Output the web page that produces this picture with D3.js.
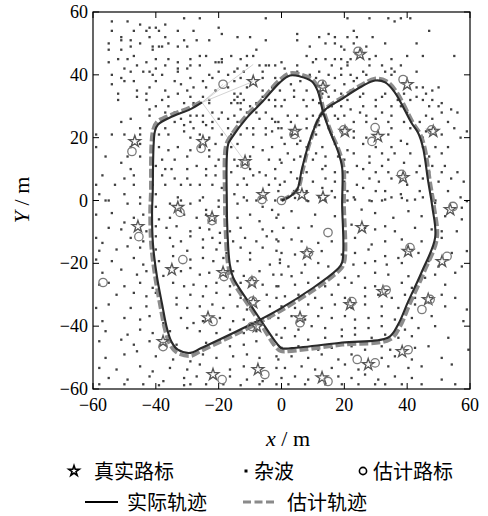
<!DOCTYPE html>
<html><head><meta charset="utf-8">
<script src="https://cdn.jsdelivr.net/npm/d3@7"></script>
<style>body{margin:0;background:#fff}svg{display:block}</style>
</head><body>
<svg id="c" width="488" height="516"></svg>
<script>
const xTicks=[-60,-40,-20,0,20,40,60];
const yTicks=[-60,-40,-20,0,20,40,60];
const actualPath=[[0,0],[3,1.5],[5,3.5],[6.5,10],[9,19],[13,28],[19,32.2],[25.5,36.3],[29.8,38.2],[33,37.6],[36,34.5],[41.5,24.5],[43.5,21.5],[45,17],[46.7,6],[48,-2],[48.9,-11.8],[44.7,-22.6],[40.3,-32.2],[37.1,-39.5],[34,-43.6],[19.3,-45.2],[3.3,-47],[0,-47],[-1.5,-45.5],[-6,-39],[-10,-33],[-15.4,-24.5],[-16.5,-20],[-17.2,-10],[-17.4,-1],[-17,17.8],[-15.8,20],[-11,26.4],[-6,31.5],[-0.5,37.6],[2.7,39.8],[5.9,39.5],[9.7,37.9],[11.6,34.7],[13.2,28.3],[15.4,22],[18,15.6],[19.3,10.5],[19.3,-1],[19.3,-19.7],[17.7,-22],[-0.5,-34.5],[-26,-47.2],[-29,-48.5],[-33,-47.5],[-35,-45],[-36.5,-40.5],[-38,-33],[-39.6,-24.5],[-40.9,-14],[-41.2,-3.5],[-41,2],[-40.3,22],[-39.3,24.2],[-34.6,26.8],[-29.1,29],[-25.3,31.2]];
const estPath=[[0,0],[3.2,1.8],[5.3,3.8],[6.9,10.2],[9.3,19.3],[13.4,28.5],[19.2,32.8],[25.4,36.8],[29.7,38.8],[33.3,38.1],[36.5,34.8],[42,24.5],[44.1,21.3],[45.6,16.8],[47.3,5.8],[48.6,-2.2],[49.5,-12],[45.3,-23],[40.9,-32.8],[37.7,-40.2],[34.5,-44.3],[19.3,-45.9],[3.2,-47.9],[-0.3,-47.9],[-2.2,-46.2],[-6.5,-39.4],[-10.5,-33.4],[-15.9,-24.9],[-17.1,-20],[-17.8,-10],[-18,-1],[-17.7,17.5],[-16.4,20.2],[-11.4,26.8],[-6.3,32],[-0.8,38.2],[2.6,40.5],[5.9,40.2],[9.9,38.5],[12,34.6],[13.6,28.1],[15.8,21.8],[18.5,15.4],[19.8,10.4],[19.9,-1],[19.9,-20],[18.1,-22.6],[-0.4,-35.2],[-25.8,-48],[-29,-49.5],[-33.5,-48.3],[-35.7,-45.5],[-37.2,-40.7],[-38.7,-33],[-40.2,-24.5],[-41.5,-14],[-41.8,-3.5],[-41.6,2],[-41,22],[-39.7,25],[-34.6,27.5],[-29,29.7],[-25,31.8]];
const trueLandmarks=[[25,46.5],[-9,37.9],[40,36.9],[13.2,36],[-46.7,18.8],[-25,18.8],[-11.6,12.4],[-5.9,1.9],[4.3,22],[20.2,22],[30.7,20.4],[48.3,22],[38.7,7.3],[6.5,1.9],[13.2,1],[53.7,-2.9],[25.6,-8.6],[8.1,-16.9],[40.3,-16.2],[51.1,-19.4],[32.3,-29],[21.8,-33.1],[46.7,-31.5],[5.9,-37.3],[38.4,-48.1],[27.6,-52.2],[12.9,-56.4],[-33,-2.2],[-22.1,-5.4],[-45.7,-8.3],[-34.9,-22],[-18.6,-22.9],[-9.4,-26.1],[-9,-32.5],[-23.4,-37.3],[-7.8,-40.1],[-37.7,-44.9],[-21.8,-55.4],[-7.5,-53.8]];
const estLandmarks=[[24.4,47.5],[-18.6,37],[38.7,38.5],[12.9,37],[-47.6,15.6],[-25.6,16.6],[-11.6,11.5],[-6.2,0.3],[4,21],[19.8,22.5],[29.8,23.2],[28.8,18.8],[47.8,22.5],[38.2,8.3],[0,0],[54.6,-1.9],[14.8,-10.2],[8.6,-16.6],[40.9,-15],[52.7,-17.8],[33.3,-28.5],[22.4,-32.2],[47.3,-31.5],[44.7,-34.7],[5.9,-38.9],[40.3,-47.5],[24.1,-50.6],[29.8,-51.7],[14.8,-57.6],[-32.3,-3.8],[-22.1,-6.4],[-45.4,-11.5],[-31.4,-18.8],[-18.3,-24.2],[-9.2,-25.6],[-9.2,-32],[-21.8,-38.5],[-9.4,-40.1],[-37.7,-46.5],[-18.9,-57],[-5.3,-55.4],[-56.8,-26.1]];
const assocTargets=[[-9,43.3],[-9,37.9],[-18.6,37],[-11.6,12.4]];
const clutter=[
[-54,57],[-49,57],[-45,56],[-42,55],[-40,55],[-37,56],[-31,58],[-26,58],[-20,55],[-5,58],
[-54,54],[-51,52],[-47,54],[-43,54],[-39,54],[-37,52],[-33,54],[-28,54],[-19,53],
[-55,50],[-51,51],[-48,51],[-42,52],[-45,50],[-41,49],[-38,49],[-36,50],[-31,51],[-27,51],[-23,51],[-14,52],[-10,52],[-5,51],
[-55,48],[-51,48],[-48,49],[-41,48],[-39,49],[-33,49],[-30,49],[-26,46],[-24,46],[-19,45],[-16,46],[-11,46],[-8,48],
[-55,44],[-52,45],[-49,45],[-47,46],[-43,44],[-40,45],[-36,45],[-33,44],[-29,45],[-21,44],[-19,44],[-13,45],[-9,46],[-7,43],[-5,43],[-4,43],[-2,43],
[-50,42],[-46,43],[-42,41],[-40,42],[-37,43],[-33,42],[-29,43],[-26,43],[-20,44],[-14,42],[-11,43],
[-54,40],[-51,39],[-48,41],[-44,41],[-41,40],[-38,40],[-33,41],[-30,42],[-23,40],[-20,41],[-17,40],[-15,41],[-12,41],[-6,41],
[-54,37],[-50,38],[-47,38],[-42,36],[-40,38],[-34,38],[-32,37],[-29,39],[-25,38],[-22,39],[-15,38],[-13,39],[-11,36],[-6,39],[-2,39],
[-52,34],[-46,35],[-43,34],[-37,35],[-33,34],[-30,35],[-28,36],[-24,36],[-21,35],[-17,36],[-15,34],[-13,34],[-6,35],[-3,36],[-0.5,35],
[-52,32],[-46,33],[-43,32],[-38,32],[-36,33],[-29,33],[-25,33],[-23,32],[-15,32],[-14,33],[-12,32],[-6,33],[-4,32],[-2,32],
[-42,29],[-40,30],[-36,30],[-31,31],[-28,31],[-23,31],[-16,31],[-14,31],[-13,31],[-10,30],[-8,31],[-2,30],
[-42,27],[-37,28],[-34,28],[-29,27],[-27,27],[-25,27],[-22,28],[-19,28],[-15,27],[-13,29],[-11,28],[-8,28],[-5,28],
[-51,25],[-48,26],[-38,26],[-34,25],[-32,26],[-29,25],[-25,25],[-22,25],[-20,26],[-17,26],[-14,25],[-12,26],[-7,26],[-3,26],[-2,25],
[-45,23],[-37,23],[-31,24],[-28,23],[-24,24],[-22,23],[-17,23],[-15,22],[-11,23],[-9,23],[-5,23],[-3,22],[-1,23],
[-59,21],[-54,21],[-50,21],[-45,21],[-39,21],[-36,21],[-31,22],[-29,20],[-26,21],[-23,20],[-19,21],[-16,21],[-13,21],[-9,21],[-5,21],
[-59,17],[-48,17],[-45,18],[-39,17],[-36,16],[-33,17],[-29,16],[-26,17],[-23,16],[-21,18],[-16,17],[-14,18],[-9,17],[-6,16],[-3,17],
[-56,14],[-49,14],[-45,14],[-38,13],[-34,13],[-30,14],[-23,14],[-20,13],[-15,13],[-10,14],[-4,13],[-0.5,13],
[-51,12],[-48,10],[-40,11],[-37,10],[-35,10],[-30,10],[-27,11],[-24,10],[-21,11],[-14,11],[-10,10],[-7,9],[-2,10],
[-57,8],[-50,7],[-47,8],[-41,8],[-38,8],[-34,7],[-30,7],[-24,8],[-21,8],[-16,9],[-12,7],[-9,8],[-5,8],[-2,7],
[-59,5],[-53,5],[-47,5],[-41,5],[-37,5],[-32,5],[-29,5],[-26,5],[-22,5],[-19,4],[-14,5],[-11,5],[-4,5],[-0.5,5],
[-58,2],[-56,0],[-50,2],[-45,1],[-40,2],[-33,1],[-32,0],[-25,1],[-20,0],[-15,2],[-12,1],[-8,0],[-2,0],
[21,58],[28,58],[34,58],[36,57],[38,58],[41,58],
[5,53],[12,52],[15,53],[17,52],[21,52],[23,54],[24,52],[29,52],[47,54],
[5,51],[9,49],[14,50],[17,50],[19,49],[20,48],[23,50],[27,49],[33,50],[43,50],[45,46],[55,46],
[8,46],[11,45],[14,45],[17,45],[19,45],[21,44],[22,45],[28,45],[30,46],[35,45],[40,46],
[0,44],[5,43],[10,44],[16,43],[19,42],[21,43],[28,43],[32,43],[35,42],[38,43],[43,41],
[1,42],[5,41],[9,40],[12,41],[15,40],[19,40],[22,40],[26,41],[33,41],[35,40],[36,41],
[3,37],[6,38],[11,39],[17,39],[20,37],[23,38],[24,39],[27,40],[43,36],[45,36],[48,35],[50,36],
[4,35],[8,35],[13,34],[17,35],[19,34],[22,35],[26,34],[33,34],[39,34],[43,33],[46,34],
[1,32],[4,33],[7,32],[10,32],[15,33],[18,32],[21,32],[25,33],[30,32],[32,33],[37,32],[41,32],[45,32],[48,32],[51,31],
[0,30],[8,30],[12,31],[16,30],[19,30],[22,29],[26,30],[30,30],[35,30],[38,30],[47,30],[50,30],[54,29],[56,28],
[2,27],[5,27],[10,27],[17,27],[20,27],[25,28],[27,27],[32,28],[35,27],[40,28],[46,27],[51,28],
[-1,25],[3,25],[8,26],[12,24],[18,26],[23,25],[27,25],[30,26],[34,25],[39,25],[44,25],[48,26],[53,25],
[0,23],[8,23],[15,23],[23,22],[35,23],[41,23],[46,22],[55,23],[59,22],
[0,20],[3,21],[6,19],[11,21],[16,21],[23,20],[27,20],[34,21],[38,19],[45,20],[51,21],[57,20],
[1,18],[5,18],[8,17],[13,17],[17,18],[21,16],[26,18],[30,17],[35,17],[40,18],[45,17],[49,17],[53,17],
[2,15],[6,14],[11,15],[14,14],[18,14],[23,15],[28,14],[32,15],[36,15],[41,15],[47,14],[51,15],
[0,12],[4,13],[10,13],[14,11],[20,13],[24,11],[28,12],[32,11],[34,13],[39,12],[44,11],[48,11],[52,11],
[3,9],[8,9],[13,10],[17,9],[21,9],[26,10],[30,9],[34,9],[43,9],[47,9],[51,9],[56,9],
[1,6],[5,7],[10,6],[14,7],[17,6],[20,6],[24,5],[28,7],[31,6],[35,7],[40,5],[45,7],[50,6],[54,7],[58,6],
[-1,3],[4,3],[8,3],[13,4],[16,3],[21,3],[26,4],[30,3],[33,3],[38,2],[44,3],[48,2],[53,3],
[2,1],[8,0],[12,1],[17,1],[21,0],[23,1],[28,0],[32,0],[35,1],[40,0],[45,1],[49,0],[57,1],
[-55,0],[-49,-1],[-45,-1],[-40,-2],[-35.5,-1],[-29,-1],[-26,0],[-24,-3],[-20,-2],[-14,-1],[-11,0],[-6,-2],[-3,-3],
[-59,-4.5],[-54,-4],[-50,-7],[-47,-5.5],[-44,-4.5],[-39,-6],[-35.5,-5.5],[-31,-4.5],[-27,-5.5],[-24,-4.5],[-17.5,-5],[-14,-5.5],[-10,-4.5],[-7,-6.6],[-1.6,-5.5],
[-55,-8.7],[-51,-9.2],[-43,-9.8],[-40,-8.2],[-36.6,-8.7],[-33.4,-8.2],[-29,-9.8],[-26,-8.7],[-23,-9.2],[-19.6,-10.3],[-16.4,-9.8],[-13,-8.7],[-6,-9.2],[-3,-9.8],
[-59,-11.9],[-57,-13.5],[-48,-11.9],[-44,-13],[-40,-11.4],[-35.5,-11.9],[-32,-13],[-29,-11.4],[-25,-12.4],[-22,-11.9],[-19.6,-13.5],[-15.4,-13],[-11.6,-11.9],[-8,-13],[-4.7,-11.4],[-1.6,-12.4],
[-58,-16],[-52.5,-15.6],[-49,-14.6],[-45,-15],[-40,-15.6],[-34.5,-14.6],[-30,-16],[-25,-15],[-20.7,-15.6],[-17.5,-16.7],[-13,-15],[-10,-16.7],[-6,-15],[-1.6,-16],
[-59,-18.8],[-54,-19.3],[-47,-18.3],[-44,-20.4],[-39,-19.3],[-34.5,-17.7],[-29,-18.8],[-25,-18.3],[-21.7,-19.3],[-18.5,-18.3],[-14,-19.3],[-10,-18.8],[-3.7,-20.4],[-0.5,-18.8],
[-57,-23],[-51,-22],[-46,-23.6],[-43,-22.5],[-37.6,-24],[-32,-22.5],[-29,-21.5],[-26,-23.6],[-23,-23],[-15.4,-22.5],[-12,-24],[-7,-22.5],[-2.6,-23.6],
[-58,-26.8],[-55,-26.2],[-50,-27.3],[-45,-26.2],[-41,-27.8],[-34.5,-26.2],[-31,-27.3],[-28,-26.8],[-24,-27.3],[-20.7,-26.2],[-16.4,-27.3],[-13,-26.2],[-6,-26.8],[-1.6,-27.3],
[-52.5,-30],[-47,-29.4],[-43,-30.5],[-40,-29.4],[-33.4,-31],[-29,-30],[-25,-30.5],[-20.7,-29.4],[-16.4,-30],[-13,-31],[-4.7,-30],[-1.6,-31],
[-59,-34.2],[-55,-33.1],[-48,-34.2],[-43,-33.7],[-33.4,-33.1],[-30,-34.2],[-26,-33.7],[-22,-33.1],[-18.5,-34.2],[-14,-33.7],[-11,-34.7],[-3.7,-33.7],
[-57,-38.4],[-50,-37.4],[-45,-37.9],[-42,-36.8],[-37.6,-39],[-32,-37.4],[-28,-39],[-25,-38.4],[-19.6,-37.4],[-15.4,-38.4],[-12,-37.9],[-3.7,-37.4],
[-56,-41.6],[-49,-42.7],[-45,-41.1],[-41,-42.2],[-35.5,-41.6],[-30,-40.6],[-26,-41.6],[-20.7,-42.2],[-16.4,-41.1],[-12,-42.2],[-8,-41.6],[-1.6,-42.7],
[-58,-44.8],[-51,-44.3],[-47,-45.9],[-42,-44.8],[-33.4,-45.9],[-24,-45.3],[-19.6,-44.8],[-16.4,-46.4],[-12,-45.9],[-8,-44.8],[-2.6,-45.9],
[-56,-50.1],[-50,-49],[-46,-48],[-40,-49.6],[-34.5,-50.6],[-29,-51.2],[-25,-49],[-20.7,-50.1],[-15.4,-49.6],[-11,-49],[-7,-50.1],[-1.6,-49.6],
[-58,-53.3],[-52.5,-53.8],[-45,-52.8],[-41,-54.4],[-35.5,-53.3],[-30,-53.8],[-26,-52.2],[-16.4,-53.8],[-12,-52.8],[-1.6,-53.3],
[-55,-56.5],[-49,-57],[-42,-56],[-37.6,-57.5],[-31,-56.5],[-27,-56],[-16.4,-56],[-11,-57],[-6,-57.5],
[-58,-58.5],[-50,-58.5],[-44,-58.5],[-39,-58.8],[-31,-58.8],[-29,-58.5],[-24,-58.5],[-18.5,-58.5],[-13,-58.8],[-7,-58.5],[-1.6,-58.5],
[0,0.3],[4.3,0.8],[8.5,-0.2],[13.9,0.3],[23.4,0.3],[28.7,-0.2],[33,0.3],[38.3,0.8],[42.5,0.3],[48.9,-0.8],[57.4,-2.3],[59,-0.2],
[-1,-4.5],[3.2,-3.4],[10.7,-4.5],[17,-5],[25.5,-2.9],[29.8,-4],[35.6,-5.5],[40.4,-3.4],[44.6,-5],[52.1,-5],[57.4,-6],
[0.6,-8.7],[5.4,-8.7],[9.6,-8.2],[22.3,-7.7],[26.6,-8.7],[29.8,-9.2],[33,-8.2],[36.1,-9.8],[42.5,-8.7],[47.8,-9.2],[51,-9.8],[55.8,-9.8],
[-1,-13],[3.2,-12.4],[6.4,-13],[11.7,-13.5],[16,-13],[23.4,-11.9],[28.7,-14],[33,-13],[38.3,-12.4],[44.6,-13],[51,-11.9],
[0,-16.7],[4.3,-17.2],[12.8,-16.1],[19.2,-17.2],[23.4,-16.7],[27.7,-15.6],[33,-17.7],[37.2,-18.3],[43.6,-16.7],[47.8,-17.2],[54.2,-16.7],[59,-16.1],
[-0.5,-19.9],[2.2,-21],[7.5,-20.4],[11.7,-19.9],[14.9,-21],[22.9,-20.4],[26.6,-19.9],[29.8,-19.3],[33.5,-20.4],[38.3,-19.9],[46.8,-19.3],[50,-21],[57.4,-21],
[0,-23.6],[3.2,-24.1],[6.4,-23],[11.7,-24.6],[16.5,-23.6],[20.2,-24.6],[24.5,-24.1],[29.8,-23],[34,-23.6],[40.4,-24.1],[45.7,-24.6],[48.9,-23.6],[55.3,-23],
[-1,-27.3],[4.3,-26.8],[8.5,-26.2],[13.9,-27.3],[18.1,-26.8],[22.3,-26.2],[26.6,-27.8],[29.8,-27.3],[38.3,-26.2],[41.5,-27.8],[52.1,-26.8],
[1.1,-30.5],[5.4,-30],[10.7,-31],[16,-30],[20.2,-31],[26.6,-30.5],[30.8,-30],[35.1,-31],[39.3,-30],[42.5,-31],[51,-30],[55.3,-31],
[0,-33.7],[4.3,-34.2],[8.5,-33.1],[12.8,-34.2],[17,-33.1],[22.3,-34.2],[26.6,-33.1],[31.9,-33.7],[37.2,-34.2],[42.5,-33.1],[52.1,-33.7],[59,-34.7],
[-1,-37.4],[3.2,-36.8],[7.5,-37.9],[11.7,-36.8],[16,-37.4],[20.2,-36.8],[23.4,-37.9],[27.7,-37.4],[31.9,-36.8],[36.1,-37.9],[41.5,-37.4],[47.8,-36.8],[57.9,-38.4],
[1.1,-40.6],[5.4,-41.1],[9.6,-40],[13.9,-40.6],[19.2,-41.1],[23.4,-40.6],[27.7,-40.6],[31.9,-40],[39.3,-41.1],[43.6,-40.6],[48.9,-40],
[0,-43.7],[4.3,-43.2],[8.5,-44.3],[13.9,-43.7],[19.2,-43.2],[23.4,-42.7],[28.7,-43.7],[33,-42.7],[37.2,-43.7],[41.5,-43.2],[53.1,-43.7],
[0,-46.9],[5.4,-46.4],[11.7,-47.5],[16,-46.9],[22.3,-46.4],[26.6,-47.5],[31.9,-46.4],[34.6,-47.5],[42.5,-46.9],[46.8,-46.4],[59.5,-47.5],
[-1,-50.6],[3.2,-49.6],[8.5,-50.1],[12.8,-49],[18.1,-50.6],[22.3,-49],[31.9,-50.1],[36.1,-49.6],[41.5,-50.6],[51,-50.1],
[1.1,-53.3],[6.4,-52.8],[10.7,-53.8],[16,-53.3],[20.2,-52.2],[24.5,-53.8],[34,-52.8],[40.4,-53.3],[44.6,-52.8],[54.2,-52.2],
[0,-56.5],[4.3,-56],[8.5,-57],[18.1,-56],[22.3,-56.5],[26.6,-55.4],[30.8,-57],[36.1,-56],[41.5,-56.5],[51,-57],
[2.2,-58.5],[7.5,-58.5],[13.9,-58.5],[19.2,-58.5],[24.5,-58.5],[29.8,-58.5],[33,-58.5],[38.3,-58.5],[44.6,-58.5],[55.3,-58.5]
];

const svg=d3.select("#c");
const L=93,R=470,T=12,B=389;
const x=d3.scaleLinear().domain([-60,60]).range([L,R]);
const y=d3.scaleLinear().domain([-60,60]).range([B,T]);
const fmt=d=>d<0?"\u2212"+Math.abs(d):String(d);
const serif="'Liberation Serif','Times New Roman',serif";
const cjk="'Noto Sans CJK SC','Noto Sans',sans-serif";

svg.append("defs").append("clipPath").attr("id","clip").append("rect")
  .attr("x",L).attr("y",T).attr("width",R-L).attr("height",B-T);
const g=svg.append("g").attr("clip-path","url(#clip)");

// clutter
g.selectAll("rect.cl").data(clutter).join("rect").attr("class","cl")
  .attr("x",d=>x(d[0])-1.15).attr("y",d=>y(d[1])-1.15)
  .attr("width",2.3).attr("height",2.3).attr("fill","#404040");

// association lines
const endPt=actualPath[actualPath.length-1];
g.selectAll("line.as").data(assocTargets).join("line")
  .attr("x1",x(endPt[0])).attr("y1",y(endPt[1]))
  .attr("x2",d=>x(d[0])).attr("y2",d=>y(d[1]))
  .attr("stroke","#c8c8c8").attr("stroke-width",0.8);

const line=d3.line().x(d=>x(d[0])).y(d=>y(d[1])).curve(d3.curveCatmullRom.alpha(0.5));
g.append("path").attr("d",line(estPath)).attr("fill","none")
  .attr("stroke","#8c8c8c").attr("stroke-width",3.8).attr("stroke-dasharray","9,3");
g.append("path").attr("d",line(actualPath)).attr("fill","none")
  .attr("stroke","#2a2a2a").attr("stroke-width",2.1);

const star=d3.symbol().type(d3.symbolStar).size(42);
g.selectAll("path.st").data(trueLandmarks).join("path")
  .attr("d",star).attr("transform",d=>`translate(${x(d[0])},${y(d[1])})`)
  .attr("fill","none").attr("stroke","#555").attr("stroke-width",1.3);
g.selectAll("circle.el").data(estLandmarks).join("circle")
  .attr("cx",d=>x(d[0])).attr("cy",d=>y(d[1])).attr("r",4.2)
  .attr("fill","none").attr("stroke","#7a7a7a").attr("stroke-width",1.3);

// frame
svg.append("rect").attr("x",L).attr("y",T).attr("width",R-L).attr("height",B-T)
  .attr("fill","none").attr("stroke","#000").attr("stroke-width",1.2);

// ticks (inward, all sides)
const tk=6;
xTicks.forEach(t=>{
  svg.append("line").attr("x1",x(t)).attr("x2",x(t)).attr("y1",B).attr("y2",B-tk).attr("stroke","#000");
  svg.append("line").attr("x1",x(t)).attr("x2",x(t)).attr("y1",T).attr("y2",T+tk).attr("stroke","#000");
  svg.append("text").attr("x",x(t)).attr("y",411).attr("text-anchor","middle")
    .attr("font-family",serif).attr("font-size",18).text(fmt(t));
});
yTicks.forEach(t=>{
  svg.append("line").attr("x1",L).attr("x2",L+tk).attr("y1",y(t)).attr("y2",y(t)).attr("stroke","#000");
  svg.append("line").attr("x1",R).attr("x2",R-tk).attr("y1",y(t)).attr("y2",y(t)).attr("stroke","#000");
  svg.append("text").attr("x",88).attr("y",y(t)+6).attr("text-anchor","end")
    .attr("font-family",serif).attr("font-size",18).text(fmt(t));
});

// axis labels
const xl=svg.append("text").attr("x",288).attr("y",446).attr("text-anchor","middle")
  .attr("font-family",serif).attr("font-size",22);
xl.append("tspan").attr("font-style","italic").text("x");
xl.append("tspan").text(" / m");
const yl=svg.append("text").attr("transform","translate(29,200) rotate(-90)").attr("text-anchor","middle")
  .attr("font-family",serif).attr("font-size",22);
yl.append("tspan").attr("font-style","italic").text("Y");
yl.append("tspan").text(" / m");

// legend
const lg=svg.append("g");
lg.append("path").attr("d",d3.symbol().type(d3.symbolStar).size(34)())
  .attr("transform","translate(74,471)").attr("fill","none").attr("stroke","#000").attr("stroke-width",1.6);
lg.append("text").attr("x",94).attr("y",479).attr("font-family",cjk).attr("font-size",20).text("真实路标");
lg.append("rect").attr("x",244.5).attr("y",469.5).attr("width",3).attr("height",3).attr("fill","#000");
lg.append("text").attr("x",254).attr("y",479).attr("font-family",cjk).attr("font-size",20).text("杂波");
lg.append("circle").attr("cx",363).attr("cy",471).attr("r",3.6).attr("fill","none").attr("stroke","#000").attr("stroke-width",1.6);
lg.append("text").attr("x",373).attr("y",479).attr("font-family",cjk).attr("font-size",20).text("估计路标");
lg.append("line").attr("x1",85).attr("x2",118).attr("y1",502).attr("y2",502).attr("stroke","#000").attr("stroke-width",2);
lg.append("text").attr("x",127).attr("y",510).attr("font-family",cjk).attr("font-size",20).text("实际轨迹");
lg.append("line").attr("x1",243).attr("x2",277).attr("y1",502).attr("y2",502).attr("stroke","#8a8a8a").attr("stroke-width",3).attr("stroke-dasharray","8,3.5");
lg.append("text").attr("x",287).attr("y",510).attr("font-family",cjk).attr("font-size",20).text("估计轨迹");
</script>
</body></html>
